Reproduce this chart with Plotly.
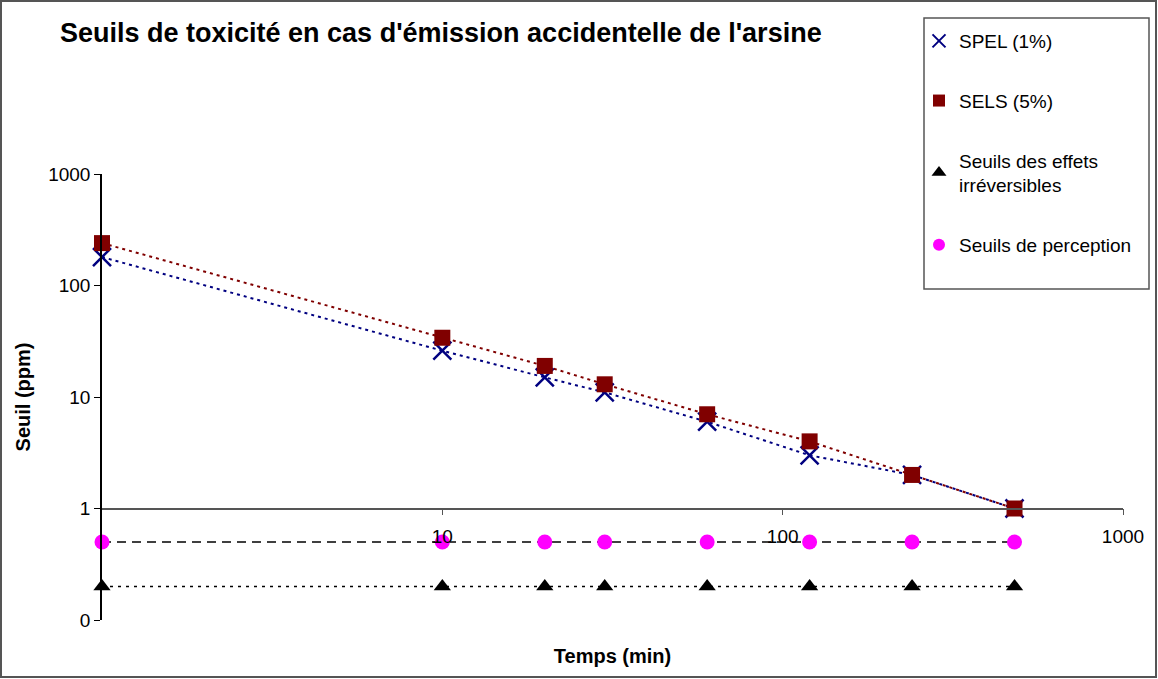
import plotly.graph_objects as go

# ---- data ----
temps = [1, 10, 20, 30, 60, 120, 240, 480]
spel = [180, 26, 15, 11, 6, 3, 2, 1]
sels = [240, 34, 19, 13, 7, 4, 2, 1]
irreversibles = [0.2, 0.2, 0.2, 0.2, 0.2, 0.2, 0.2, 0.2]
perception = [0.5, 0.5, 0.5, 0.5, 0.5, 0.5, 0.5, 0.5]

series_names = ["SPEL (1%)", "SELS (5%)", "Seuils des effets<br>irréversibles", "Seuils de perception"]
y_tickvals = [0.1, 1, 10, 100, 1000]
y_ticktext = ["0", "1", "10", "100", "1000"]
x_tickvals = [10, 100, 1000]
x_ticktext = ["10", "100", "1000"]

FONT = "Liberation Sans, Arial, sans-serif"
W, H = 1158, 679
L, R, T, B = 102, 35, 174, 59
PW, PH = W - L - R, H - T - B

def px_x(px):
    return (px - L) / PW

def px_y(py):
    return (H - B - py) / PH

fig = go.Figure()

styles = [
    dict(color="#000080", symbol="x-thin-open", size=18, line=dict(width=2.5, color="#000080"),
         ln=dict(color="#000080", width=2, dash="3px,4px")),
    dict(color="#800000", symbol="square", size=16, line=dict(width=0),
         ln=dict(color="#800000", width=2, dash="3px,4px")),
    dict(color="#000000", symbol="triangle-up", size=15, line=dict(width=0),
         ln=dict(color="#000000", width=1.5, dash="3px,5px")),
    dict(color="#FF00FF", symbol="circle", size=15, line=dict(width=0),
         ln=dict(color="#000000", width=1.5, dash="9px,6px")),
]
legend_sizes = [13, 12, 13, 12]
datasets = [spel, sels, irreversibles, perception]

# draw order: lower lines first
for i in [3, 2, 0, 1]:
    s = styles[i]
    fig.add_trace(go.Scatter(
        x=temps, y=datasets[i], mode="lines+markers",
        name=series_names[i], showlegend=False, cliponaxis=False,
        line=s["ln"],
        marker=dict(color=s["color"], symbol=s["symbol"], size=s["size"], line=s["line"]),
        xaxis="x", yaxis="y",
    ))

# legend entries (markers only, as in the original)
for i in range(4):
    s = styles[i]
    lw = dict(width=2, color=s["color"]) if i == 0 else s["line"]
    fig.add_trace(go.Scatter(
        x=[None], y=[None], mode="markers", name=series_names[i],
        legendgroup=f"g{i}", showlegend=True,
        marker=dict(color=s["color"], symbol=s["symbol"], size=legend_sizes[i], line=lw),
        xaxis="x2", yaxis="y",
    ))

fig.update_layout(
    width=W, height=H,
    margin=dict(l=L, r=R, t=T, b=B),
    paper_bgcolor="white", plot_bgcolor="white",
    font=dict(family=FONT, size=19, color="black"),
    title=dict(text="<b>Seuils de toxicité en cas d'émission accidentelle de l'arsine</b>",
               x=60 / W, xanchor="left", xref="container",
               y=1 - 33 / H, yanchor="middle", yref="container",
               font=dict(family=FONT, size=27, color="black")),
    xaxis=dict(type="log", range=[0, 3], showline=False, showgrid=False, zeroline=False,
               ticks="", showticklabels=False,
               title=dict(text="<b>Temps (min)</b>", font=dict(size=20), standoff=28)),
    xaxis2=dict(type="log", range=[0, 3], overlaying="x", anchor="free", position=0.25,
                side="bottom", showline=True, linecolor="#555555", linewidth=1.5,
                showgrid=False, zeroline=False, ticks="outside", ticklen=6, tickcolor="#555555",
                ticklabelstandoff=5,
                tickvals=x_tickvals, ticktext=x_ticktext, tickfont=dict(size=19)),
    yaxis=dict(type="log", range=[-1, 3], showline=True, linecolor="black", linewidth=1.5,
               showgrid=False, zeroline=False, ticks="outside", ticklen=6, tickcolor="black",
               tickvals=y_tickvals, ticktext=y_ticktext, tickfont=dict(size=19),
               title=dict(text="<b>Seuil (ppm)</b>", font=dict(size=20), standoff=12)),
    legend=dict(x=px_x(919), xanchor="left", y=px_y(22), yanchor="top",
                bgcolor="rgba(0,0,0,0)", borderwidth=0, tracegroupgap=32,
                font=dict(family=FONT, size=19), traceorder="grouped"),
    shapes=[
        dict(type="rect", xref="paper", yref="paper",
             x0=px_x(1), x1=px_x(1156), y0=px_y(677), y1=px_y(1),
             line=dict(color="#555555", width=2), fillcolor="rgba(0,0,0,0)", layer="below"),
        dict(type="rect", xref="paper", yref="paper",
             x0=px_x(924), x1=px_x(1149), y0=px_y(289), y1=px_y(18),
             line=dict(color="#555555", width=1.5), fillcolor="white", layer="below"),
    ],
)

fig.write_html(
    "out.html",
    config={"displayModeBar": False},
    post_script="document.body.style.margin='0px';document.body.style.overflow='hidden';",
)
